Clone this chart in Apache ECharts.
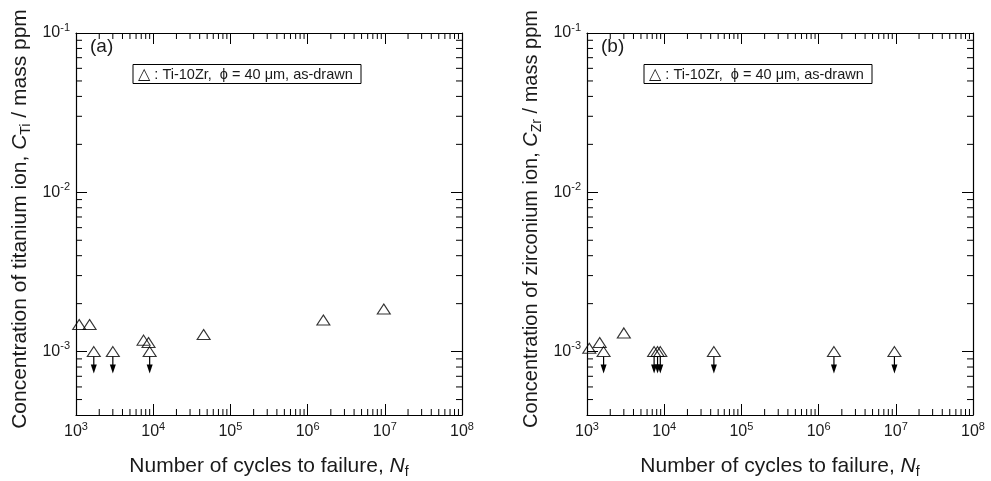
<!DOCTYPE html>
<html>
<head>
<meta charset="utf-8">
<script src="https://cdn.jsdelivr.net/npm/echarts@6/dist/echarts.min.js"></script>
<style>
  html, body { margin: 0; padding: 0; background: #fff; }
  #chart { width: 991px; height: 481px; }
</style>
</head>
<body>
<div id="chart"></div>
<script>
// 数据 - 从原图读取
// (a) 钛离子浓度
const tiCycles = [1.1e3, 1.5e3, 1.7e3, 3.0e3, 7.5e3, 8.7e3, 9.0e3, 4.5e4, 1.6e6, 9.7e6];
const tiConc = [1.48e-3, 1.48e-3, 1.0e-3, 1.0e-3, 1.18e-3, 1.14e-3, 1.0e-3, 1.28e-3, 1.58e-3, 1.85e-3];
const tiBelowLimit = [0, 0, 1, 1, 0, 0, 1, 0, 0, 0];

// (b) 锆离子浓度
const zrCycles = [1.07e3, 1.46e3, 1.64e3, 3.0e3, 7.4e3, 8.2e3, 8.9e3, 4.4e4, 1.58e6, 9.6e6];
const zrConc = [1.05e-3, 1.14e-3, 1.0e-3, 1.31e-3, 1.0e-3, 1.0e-3, 1.0e-3, 1.0e-3, 1.0e-3, 1.0e-3];
const zrBelowLimit = [0, 0, 1, 0, 1, 1, 1, 1, 1, 1];

// 坐标轴范围与刻度
const xDecades = [1e3, 1e4, 1e5, 1e6, 1e7];
const yDecades = [1e-4, 1e-3, 1e-2];
const xRange = [1e3, 1e8];
const yRange = [4e-4, 1e-1];

const panelLabels = ['(a)', '(b)'];

const FONT = '"Liberation Sans", Arial, "DejaVu Sans", sans-serif';
const INK = '#1a1a1a';

document.addEventListener('DOMContentLoaded', function() {
    const chart = echarts.init(document.getElementById('chart'), null, { renderer: 'canvas' });

    // 次刻度 (2..9 × 10^k)
    const minorTicks = [];
    xDecades.forEach(d => {
        for (let m = 2; m <= 9; m++) minorTicks.push([m * d, 1e-3, 0]);
    });
    yDecades.forEach(d => {
        for (let m = 2; m <= 9; m++) {
            const v = m * d;
            if (v > yRange[0] && v < yRange[1]) minorTicks.push([1e4, v, 1]);
        }
    });

    function pow10Label(v) {
        const lg = Math.log10(v);
        const e = Math.round(lg);
        if (Math.abs(lg - e) > 1e-6) return '';
        return '{b|10}{s|' + e + '}';
    }

    const labelRich = {
        b: { fontSize: 16, fontFamily: FONT, color: INK, lineHeight: 22 },
        s: { fontSize: 11, fontFamily: FONT, color: INK, lineHeight: 10, verticalAlign: 'top' }
    };

    const grids = [
        { left: 76, top: 33, width: 386, height: 382, outerBoundsMode: 'none', containLabel: false },
        { left: 587, top: 33, width: 386, height: 382, outerBoundsMode: 'none', containLabel: false }
    ];

    const xAxes = [];
    const yAxes = [];
    const yNames = [
        '{n|Concentration of titanium ion, }{i|C}{sub|Ti}{n| / mass ppm}',
        '{n|Concentration of zirconium ion, }{i|C}{sub|Zr}{n| / mass ppm}'
    ];
    const nameSizes = [21, 20];
    function nameRich(size) {
        return {
            n: { fontSize: size, fontFamily: FONT, color: INK, lineHeight: 26 },
            i: { fontSize: size, fontFamily: FONT, color: INK, lineHeight: 26, fontStyle: 'italic' },
            sub: { fontSize: 14, fontFamily: FONT, color: INK, lineHeight: 13, verticalAlign: 'bottom' }
        };
    }
    const axisLine = { show: true, lineStyle: { color: '#000', width: 1.2 } };
    const majorTick = { show: true, inside: true, length: 11, lineStyle: { color: '#000', width: 1 } };

    [0, 1].forEach(g => {
        xAxes.push({
            gridIndex: g, type: 'log', logBase: 10, min: xRange[0], max: xRange[1], position: 'bottom',
            axisLine: axisLine, axisTick: majorTick, splitLine: { show: false },
            axisLabel: { formatter: pow10Label, rich: labelRich, margin: 6 },
            name: '{n|Number of cycles to failure, }{i|N}{sub|f}',
            nameLocation: 'middle', nameGap: 38,
            nameTextStyle: { rich: nameRich(21) }
        });
        xAxes.push({
            gridIndex: g, type: 'log', logBase: 10, min: xRange[0], max: xRange[1], position: 'top',
            axisLine: axisLine, axisTick: majorTick, splitLine: { show: false },
            axisLabel: { show: false }
        });
        yAxes.push({
            gridIndex: g, type: 'log', logBase: 10, min: yRange[0], max: yRange[1], position: 'left',
            axisLine: axisLine, axisTick: majorTick, splitLine: { show: false },
            axisLabel: { formatter: pow10Label, rich: labelRich, margin: 6 },
            name: yNames[g], nameLocation: 'middle', nameRotate: 90, nameGap: 43,
            nameTextStyle: { rich: nameRich(nameSizes[g]), padding: [0, 0, 0, 10] }
        });
        yAxes.push({
            gridIndex: g, type: 'log', logBase: 10, min: yRange[0], max: yRange[1], position: 'right',
            axisLine: axisLine, axisTick: majorTick, splitLine: { show: false },
            axisLabel: { show: false }
        });
    });

    function minorTickSeries(g) {
        return {
            type: 'custom', xAxisIndex: g * 2, yAxisIndex: g * 2, silent: true,
            data: minorTicks,
            renderItem: function(params, api) {
                const dim = api.value(2);
                const style = { stroke: '#000', lineWidth: 1 };
                if (dim === 0) {
                    const xv = api.value(0);
                    const b = api.coord([xv, yRange[0]]);
                    const t = api.coord([xv, yRange[1]]);
                    return { type: 'group', children: [
                        { type: 'line', shape: { x1: b[0], y1: b[1], x2: b[0], y2: b[1] - 6 }, style: style },
                        { type: 'line', shape: { x1: t[0], y1: t[1], x2: t[0], y2: t[1] + 6 }, style: style }
                    ] };
                }
                const yv = api.value(1);
                const l = api.coord([xRange[0], yv]);
                const r = api.coord([xRange[1], yv]);
                return { type: 'group', children: [
                    { type: 'line', shape: { x1: l[0], y1: l[1], x2: l[0] + 6, y2: l[1] }, style: style },
                    { type: 'line', shape: { x1: r[0], y1: r[1], x2: r[0] - 6, y2: r[1] }, style: style }
                ] };
            }
        };
    }

    function pointSeries(g, xs, ys) {
        return {
            type: 'scatter', xAxisIndex: g * 2, yAxisIndex: g * 2, silent: true,
            symbol: 'triangle', symbolSize: [13, 10],
            itemStyle: { color: 'rgba(0,0,0,0)', borderColor: '#000', borderWidth: 1.1 },
            data: xs.map((x, i) => [x, ys[i]]),
            z: 5
        };
    }

    // 低于检出限 - 向下箭头
    function arrowSeries(g, xs, ys, flags) {
        return {
            type: 'custom', xAxisIndex: g * 2, yAxisIndex: g * 2, silent: true,
            data: xs.map((x, i) => [x, ys[i]]).filter((p, i) => flags[i]),
            renderItem: function(params, api) {
                const p = api.coord([api.value(0), api.value(1)]);
                return { type: 'group', children: [
                    { type: 'line', shape: { x1: p[0], y1: p[1] + 5, x2: p[0], y2: p[1] + 15 },
                      style: { stroke: '#000', lineWidth: 1.2 } },
                    { type: 'polygon', shape: { points: [[p[0] - 3, p[1] + 13], [p[0] + 3, p[1] + 13], [p[0], p[1] + 22]] },
                      style: { fill: '#000' } }
                ] };
            },
            z: 4
        };
    }

    const graphics = [];
    [0, 1].forEach(g => {
        const gx = grids[g].left;
        graphics.push({
            type: 'text', left: gx + 14, top: 37,
            style: { text: panelLabels[g], font: '19px ' + FONT, fill: INK }
        });
        graphics.push({
            type: 'rect', shape: { x: gx + 57, y: 64.5, width: 228, height: 19 },
            style: { fill: '#fff', stroke: '#000', lineWidth: 1 }
        });
        graphics.push({
            type: 'text', x: gx + 62, y: 74.5,
            style: {
                text: '{t|\u25B3}{n| : Ti-10Zr,  \u03D5 = 40 \u03BCm, as-drawn}',
                verticalAlign: 'middle',
                rich: {
                    t: { fontSize: 16, fontFamily: '"DejaVu Sans", sans-serif', fill: INK },
                    n: { fontSize: 14.5, fontFamily: FONT, fill: INK }
                }
            }
        });
    });

    const option = {
        animation: false,
        backgroundColor: '#fff',
        grid: grids,
        xAxis: xAxes,
        yAxis: yAxes,
        graphic: graphics,
        series: [
            minorTickSeries(0),
            minorTickSeries(1),
            pointSeries(0, tiCycles, tiConc),
            pointSeries(1, zrCycles, zrConc),
            arrowSeries(0, tiCycles, tiConc, tiBelowLimit),
            arrowSeries(1, zrCycles, zrConc, zrBelowLimit)
        ]
    };

    chart.setOption(option);

    window.addEventListener('resize', function() {
        chart.resize();
    });
});
</script>
</body>
</html>
